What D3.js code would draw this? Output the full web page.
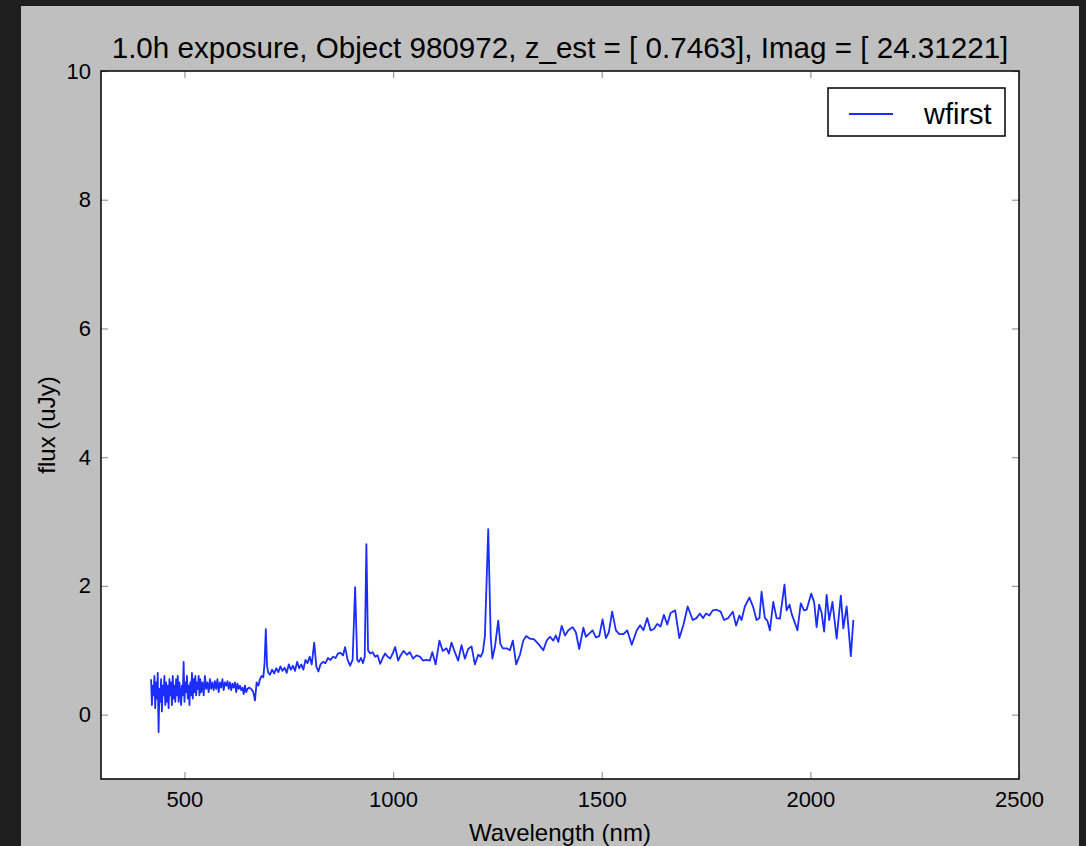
<!DOCTYPE html>
<html>
<head>
<meta charset="utf-8">
<script src="https://cdn.jsdelivr.net/npm/d3@7"></script>
<style>
  html, body { margin: 0; padding: 0; background: #1f1f1f; }
  svg { display: block; }
  text { font-family: "Liberation Sans", Arial, Helvetica, sans-serif; fill: #000; }
</style>
</head>
<body>
<svg id="chart" width="1086" height="846"></svg>
<script>
const titleText = "1.0h exposure, Object 980972, z_est = [ 0.7463], Imag = [ 24.31221]";
const xLabel = "Wavelength (nm)";
const yLabel = "flux (uJy)";
const seriesName = "wfirst";
const xTicks = [500, 1000, 1500, 2000, 2500];
const yTicks = [0, 2, 4, 6, 8, 10];
const xDomain = [300, 2500];
const yDomain = [-1, 10];

// wavelength (nm)
const wavelength = [
  420,422,424,426,428,430,432,434,436,438,440,442,444,446,448,450,452,454,456,458,
  460,462,464,466,468,470,472,474,476,478,480,482,484,486,488,490,492,494,496,498,
  500,502,504,506,508,510,512,514,516,518,520,522,524,526,528,530,532,534,536,538,
  540,543,546,549,552,555,558,561,564,567,570,573,576,579,582,585,588,591,594,597,
  600,603,606,609,612,615,618,621,624,627,630,633,636,639,642,645,648,651,655,660,
  665,669,673,677,681,685,689,692,695,698,701,705,710,715,720,725,730,735,740,745,
  750,755,760,765,770,775,780,785,790,795,800,805,811,816,821,826,832,838,844,850,
  856,862,868,874,880,885,891,897,903,909,914,918,923,928,932,936,940,945,951,957,
  963,969,975,981,987,993,999,1005,1012,1018,1025,1033,1040,1048,1056,1064,1072,1080,1088,1094,
  1102,1111,1119,1128,1134,1140,1148,1156,1164,1172,1180,1188,1196,1204,1210,1215,1220,1228,1234,1238,
  1244,1252,1257,1263,1272,1280,1287,1295,1304,1312,1319,1328,1338,1348,1360,1368,1376,1384,1390,1396,
  1404,1412,1420,1430,1438,1446,1456,1462,1470,1478,1486,1494,1502,1510,1517,1525,1534,1542,1552,1561,
  1572,1584,1592,1600,1609,1617,1625,1633,1641,1649,1657,1665,1676,1686,1696,1706,1718,1727,1735,1743,
  1750,1758,1766,1775,1785,1793,1803,1814,1822,1830,1835,1843,1854,1863,1871,1878,1883,1891,1897,1903,
  1911,1919,1927,1938,1943,1950,1955,1961,1969,1977,1985,1991,2002,2009,2015,2021,2027,2033,2039,2045,
  2053,2063,2073,2079,2087,2097,2103
];
// flux (uJy)
const flux = [
  0.55,0.15,0.45,0.30,0.60,0.10,0.50,0.25,0.65,-0.27,0.40,0.20,0.55,0.05,0.45,0.30,0.60,0.15,0.50,0.20,
  0.45,0.10,0.55,0.30,0.50,0.15,0.60,0.25,0.45,0.20,0.55,0.30,0.60,0.20,0.50,0.35,0.15,0.45,0.30,0.82,
  0.20,0.50,0.35,0.60,0.25,0.45,0.15,0.50,0.30,0.65,0.25,0.55,0.35,0.60,0.30,0.50,0.40,0.60,0.30,0.55,
  0.35,0.50,0.30,0.60,0.40,0.50,0.35,0.55,0.40,0.50,0.38,0.52,0.40,0.55,0.35,0.50,0.42,0.55,0.38,0.50,
  0.45,0.52,0.40,0.50,0.38,0.48,0.42,0.50,0.35,0.48,0.40,0.45,0.38,0.42,0.32,0.45,0.35,0.40,0.42,0.40,
  0.35,0.22,0.50,0.45,0.55,0.60,0.58,0.80,1.33,0.75,0.65,0.62,0.70,0.64,0.72,0.66,0.75,0.68,0.73,0.65,
  0.78,0.70,0.76,0.68,0.82,0.72,0.78,0.70,0.85,0.80,0.90,0.78,1.12,0.75,0.67,0.78,0.82,0.80,0.88,0.85,
  0.90,0.88,0.95,0.96,0.92,1.05,0.85,0.76,0.85,1.98,0.85,0.82,0.88,0.80,0.90,2.65,1.00,0.95,0.97,0.90,
  0.92,0.79,0.88,0.95,0.90,0.87,0.95,1.05,0.84,0.92,0.99,0.93,0.97,0.87,0.92,0.90,0.84,0.85,0.84,0.97,
  0.78,1.15,0.99,1.03,0.95,1.12,0.97,0.84,1.08,0.87,1.02,1.06,0.78,0.93,0.90,0.97,1.22,2.88,1.20,0.87,
  1.05,1.46,1.10,1.03,1.03,1.00,1.15,0.78,0.93,1.15,1.22,1.18,1.17,1.10,1.00,1.15,1.21,1.15,1.23,1.13,
  1.38,1.23,1.31,1.36,1.28,1.02,1.35,1.21,1.26,1.31,1.20,1.22,1.48,1.19,1.28,1.60,1.31,1.25,1.25,1.31,
  1.085,1.31,1.39,1.31,1.50,1.31,1.33,1.41,1.37,1.55,1.40,1.58,1.62,1.19,1.40,1.68,1.47,1.50,1.57,1.50,
  1.57,1.54,1.62,1.63,1.60,1.47,1.50,1.60,1.385,1.54,1.47,1.68,1.82,1.67,1.47,1.50,1.91,1.50,1.46,1.31,
  1.75,1.50,1.49,2.02,1.62,1.71,1.57,1.46,1.31,1.73,1.62,1.63,1.88,1.75,1.36,1.71,1.58,1.29,1.86,1.47,
  1.75,1.18,1.85,1.34,1.68,0.91,1.47
];

const W = 1086, H = 846;
const figL = 21, figT = 6, figR = 1079;
const plotL = 101, plotR = 1019, plotT = 71, plotB = 779;

const svg = d3.select("#chart");

// figure background
svg.append("rect").attr("x", figL).attr("y", figT)
  .attr("width", figR - figL).attr("height", H - figT).attr("fill", "#bfbfbf");

const x = d3.scaleLinear().domain(xDomain).range([plotL, plotR]);
const y = d3.scaleLinear().domain(yDomain).range([plotB, plotT]);

// plot area
svg.append("rect").attr("x", plotL).attr("y", plotT)
  .attr("width", plotR - plotL).attr("height", plotB - plotT).attr("fill", "#fff");

// clip
svg.append("clipPath").attr("id", "clip").append("rect")
  .attr("x", plotL).attr("y", plotT).attr("width", plotR - plotL).attr("height", plotB - plotT);

const pts = wavelength.map((w, i) => [w, flux[i]]);
const line = d3.line().x(d => x(d[0])).y(d => y(d[1]));
svg.append("path").datum(pts)
  .attr("clip-path", "url(#clip)")
  .attr("d", line).attr("fill", "none")
  .attr("stroke", "#1a2cff").attr("stroke-width", 1.8)
  .attr("stroke-linejoin", "round");

const tickLen = 7;
const tickColor = "#9a9a9a";
// axes (inward ticks, all four sides)
const axB = svg.append("g").attr("transform", `translate(0,${plotB})`)
  .call(d3.axisBottom(x).tickValues(xTicks).tickSizeInner(-tickLen).tickSizeOuter(0).tickPadding(14).tickFormat(d3.format("d")));
const axT = svg.append("g").attr("transform", `translate(0,${plotT})`)
  .call(d3.axisTop(x).tickValues(xTicks).tickSizeInner(-tickLen).tickSizeOuter(0).tickFormat(""));
const axL = svg.append("g").attr("transform", `translate(${plotL},0)`)
  .call(d3.axisLeft(y).tickValues(yTicks).tickSizeInner(-tickLen).tickSizeOuter(0).tickPadding(10).tickFormat(d3.format("d")));
const axR = svg.append("g").attr("transform", `translate(${plotR},0)`)
  .call(d3.axisRight(y).tickValues(yTicks).tickSizeInner(-tickLen).tickSizeOuter(0).tickFormat(""));
[axB, axT, axL, axR].forEach(g => {
  g.select(".domain").remove();
  g.selectAll(".tick line").attr("stroke", tickColor).attr("stroke-width", 1.2);
  g.selectAll(".tick text").attr("font-size", 22).attr("fill", "#000")
    .attr("font-family", "'Liberation Sans', Arial, sans-serif");
});
axB.selectAll(".tick text").attr("dy", "0.71em").attr("y", 12);

// frame
svg.append("rect").attr("x", plotL).attr("y", plotT)
  .attr("width", plotR - plotL).attr("height", plotB - plotT)
  .attr("fill", "none").attr("stroke", "#000").attr("stroke-width", 1.5);

// title
svg.append("text").attr("x", (plotL + plotR) / 2).attr("y", 58)
  .attr("text-anchor", "middle").attr("font-size", 29.6).text(titleText);

// x label
svg.append("text").attr("x", (plotL + plotR) / 2).attr("y", 841)
  .attr("text-anchor", "middle").attr("font-size", 24).text(xLabel);

// y label
svg.append("text").attr("transform", `translate(55,${(plotT + plotB) / 2}) rotate(-90)`)
  .attr("text-anchor", "middle").attr("font-size", 24).text(yLabel);

// legend
const lg = svg.append("g");
lg.append("rect").attr("x", 828).attr("y", 88).attr("width", 177).attr("height", 48)
  .attr("fill", "#fff").attr("stroke", "#000").attr("stroke-width", 1.5);
lg.append("line").attr("x1", 849).attr("x2", 893).attr("y1", 114).attr("y2", 114)
  .attr("stroke", "#1a2cff").attr("stroke-width", 1.8);
lg.append("text").attr("x", 924).attr("y", 124).attr("font-size", 29).text(seriesName);
</script>
</body>
</html>
